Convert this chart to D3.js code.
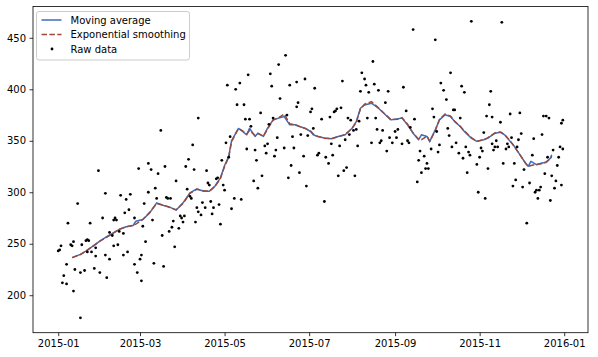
<!DOCTYPE html>
<html>
<head>
<meta charset="utf-8">
<script src="https://cdn.jsdelivr.net/npm/d3@7"></script>
<style>
  html, body { margin: 0; padding: 0; background: #fff; }
  svg { display: block; font-family: "DejaVu Sans", sans-serif; }
</style>
</head>
<body>
<svg id="chart" width="598" height="357"></svg>
<script>
// ---------- data (day offsets from 2015-01-01) ----------
const startDate = new Date(2015, 0, 1);

const rawDays = [65,58,29,34,65,45,52,49,14,62,51,48,32,41,42,40,55,7,23,61,37,44,47,39,20,21,22,11,63,2,1,0,9,10,17,43,40,27,21,24,50,34,27,47,60,37,59,6,55,12,19,16,26,30,57,4,35,3,6,60,11,16,
122,101,74,97,124,121,94,77,92,67,98,118,107,72,123,85,115,114,108,109,119,70,120,93,96,95,71,78,79,81,100,104,110,106,116,112,127,125,101,103,111,88,89,91,68,83,90,99,117,82,87,80,75,84,69,76,
164,159,137,153,131,128,154,167,172,178,185,160,129,134,173,172,183,182,146,135,138,165,155,152,139,158,169,175,180,151,149,136,142,157,163,170,150,156,177,188,143,168,174,147,166,141,144,179,132,
227,219,205,221,222,228,218,224,231,238,249,236,200,201,199,204,190,196,209,211,217,223,229,184,213,215,230,234,245,243,210,207,239,244,233,232,197,203,216,226,241,248,237,187,193,198,195,208,206,202,214,192,
298,256,272,283,276,278,291,293,280,311,285,286,251,270,309,271,257,290,254,281,273,307,282,252,253,275,287,284,294,305,269,261,274,296,289,306,264,297,292,304,260,266,302,265,267,310,262,295,259,303,308,
320,312,313,326,333,350,352,354,319,363,364,334,349,327,343,316,313,317,315,314,324,325,332,362,364,323,357,331,321,329,342,353,361,360,336,351,356,330,359,340,328,335,348,347,345,344,358,363,346,355,338];

const rawValues = [328,323,321,299,300,297,298,293,289,289,283,280,275,275,273,273,275,270,270,267,261,262,260,258,253,254,253,252,252,248,244,243,249,248,249,249,248,246,242,242,242,239,238,239,239,235,235,230,230,225,224,222,226,222,222,219,217,212,211,214,204,178,
404,372,360,346,354,348,332,325,325,322,322,331,321,318,334,311,314,313,309,307,307,304,302,303,294,296,294,295,294,294,285,290,291,285,288,285,294,284,281,278,279,277,275,277,273,272,271,271,269,266,265,262,258,247,231,228,
433,424,414,415,406,400,403,404,407,410,401,391,385,385,387,383,381,378,377,371,371,375,372,366,364,353,354,356,355,347,345,342,341,341,343,343,338,335,335,338,331,326,319,316,314,311,304,306,293,
427,416,408,410,404,405,398,397,399,398,402,387,379,381,378,382,371,373,372,370,369,372,372,362,360,361,361,360,361,359,356,351,353,353,350,348,347,345,345,348,348,347,340,336,334,336,328,324,321,316,316,291,
466,458,448,416,406,399,403,397,390,385,380,380,379,381,374,373,371,372,363,362,359,358,355,350,348,346,348,344,344,343,342,340,339,339,338,340,335,336,333,334,331,328,327,323,323,323,319,319,310,300,294,
465,398,373,376,377,374,374,372,368,367,370,357,356,353,352,350,347,344,344,341,347,344,351,344,342,342,341,344,328,328,336,334,334,326,322,318,316,312,311,309,306,305,305,302,302,300,304,307,294,292,270];

const maDays = [10,16,20,25,30,35,40,44,49,54,56,61,66,71,76,80,85,90,95,100,105,109,113,117,120,123,125,130,133,136,138,142,144,148,151,155,159,163,167,171,174,178,182,184,187,192,197,202,207,212,215,218,221,226,231,236,240,245,248,252,256,260,262,266,268,272,275,279,283,286,290,293,298,302,307,310,315,319,322,326,329,333,337,339,341,345,349,352,355,356];
const maValues = [236.5,239.7,242.9,247.7,252.5,256.8,260.7,263.9,266.5,267.7,271.9,273.5,280,289.7,287.1,285.8,282.6,289.7,299.4,303.2,301,301,305.8,313.9,326,335,350,362,359,355.8,362.2,354.2,357.4,354.2,362.2,370.3,372,373.5,365.5,365.5,363.9,362.2,359,355.8,354.2,352.6,351.9,354.2,355.8,362.2,368.6,381.6,384.8,386.5,381.6,375.2,370.3,371.3,372,365.5,357.4,351,355.8,354.2,349.4,360.6,370.3,375.2,373.5,368.6,363.9,359,352.6,349.4,351,352.6,357.4,358.3,355.8,349.4,344.6,336.5,328.4,325.2,330,326.8,328.4,329,333,336.5];

const esDays = maDays;
const esValues = [236.5,239.5,243,247.5,252.5,256.5,260.5,264,266.5,268,269,273.5,280.5,289,287.5,285.5,283,289,299,303,301.5,301,305.5,313.5,325,334,349,362,359.5,356.5,360,355,357,354.5,361.5,370,372.5,376,366.5,365.5,364,362,359.5,356.5,354.5,352.5,352,354,356,362,368,381,385.5,388,382,375.5,370.5,371,372.5,366,357.5,351.5,351,354.5,349.5,360,370.5,376,374,369,364,359.5,353,349.5,351,353,357.5,358.5,356,350,344.5,336.5,328.5,325,326,327,328,329.5,332.5,335];

const xTickDates = ["2015-01-01","2015-03-01","2015-05-01","2015-07-01","2015-09-01","2015-11-01","2016-01-01"];
const yTickValues = [200,250,300,350,400,450];
const legendLabels = ["Moving average","Exponential smoothing","Raw data"];

// ---------- layout ----------
const W = 598, H = 357;
const plot = {left: 33, right: 588, top: 6.5, bottom: 332.7};
const maColor = "#3b6cc0";
const esColor = "#9a4a36";

const dayToDate = d => d3.timeDay.offset(startDate, d);

const raw = rawDays.map((d, i) => ({date: dayToDate(d), value: rawValues[i]}));
const ma = maDays.map((d, i) => ({date: dayToDate(d), value: maValues[i]}));
const es = esDays.map((d, i) => ({date: dayToDate(d), value: esValues[i]}));

// matplotlib-like 5% margins
const dayExt = d3.extent(rawDays);
const dPad = (dayExt[1] - dayExt[0]) * 0.05;
const vExt = d3.extent(rawValues);
const vPad = (vExt[1] - vExt[0]) * 0.05;

const x = d3.scaleTime()
  .domain([d3.timeHour.offset(dayToDate(dayExt[0]), -dPad * 24), d3.timeHour.offset(dayToDate(dayExt[1]), dPad * 24)])
  .range([plot.left, plot.right]);
const y = d3.scaleLinear()
  .domain([vExt[0] - vPad, vExt[1] + vPad])
  .range([plot.bottom, plot.top]);

const svg = d3.select("#chart");
svg.append("rect").attr("width", W).attr("height", H).attr("fill", "#fff");

const clipId = "plotclip";
svg.append("clipPath").attr("id", clipId).append("rect")
  .attr("x", plot.left).attr("y", plot.top)
  .attr("width", plot.right - plot.left).attr("height", plot.bottom - plot.top);

const g = svg.append("g").attr("clip-path", `url(#${clipId})`);

const line = d3.line().x(d => x(d.date)).y(d => y(d.value));

g.append("path").datum(ma)
  .attr("fill", "none").attr("stroke", maColor).attr("stroke-width", 1.5)
  .attr("stroke-linejoin", "round").attr("d", line);

g.append("path").datum(es)
  .attr("fill", "none").attr("stroke", esColor).attr("stroke-width", 1.5)
  .attr("stroke-dasharray", "5.5,2.4").attr("d", line);

g.selectAll("circle.raw").data(raw).join("circle")
  .attr("class", "raw")
  .attr("cx", d => x(d.date)).attr("cy", d => y(d.value))
  .attr("r", 1.4).attr("fill", "#000");

// ---------- axes ----------
const parse = d3.timeParse("%Y-%m-%d");
const xAxis = d3.axisBottom(x)
  .tickValues(xTickDates.map(parse))
  .tickFormat(d3.timeFormat("%Y-%m"))
  .tickSize(3.5).tickPadding(3.5);
const yAxis = d3.axisLeft(y)
  .tickValues(yTickValues)
  .tickSize(3.5).tickPadding(3.5);

const gx = svg.append("g").attr("transform", `translate(0,${plot.bottom})`).call(xAxis);
const gy = svg.append("g").attr("transform", `translate(${plot.left},0)`).call(yAxis);
[gx, gy].forEach(a => {
  a.select(".domain").remove();
  a.selectAll(".tick line").attr("stroke", "#000").attr("stroke-width", 0.8);
  a.selectAll(".tick text").attr("fill", "#000")
    .style("font-family", "'DejaVu Sans', sans-serif").style("font-size", "10px");
});

// frame
svg.append("rect")
  .attr("x", plot.left).attr("y", plot.top)
  .attr("width", plot.right - plot.left).attr("height", plot.bottom - plot.top)
  .attr("fill", "none").attr("stroke", "#000").attr("stroke-width", 0.8);

// ---------- legend ----------
const lg = svg.append("g");
lg.append("rect")
  .attr("x", 36.5).attr("y", 11.5).attr("width", 153).attr("height", 48.5)
  .attr("rx", 2.5).attr("fill", "#fff").attr("fill-opacity", 0.8)
  .attr("stroke", "#cccccc").attr("stroke-width", 1);

const rows = [20, 34.5, 49];
lg.append("line").attr("x1", 41.5).attr("x2", 61.5).attr("y1", rows[0]).attr("y2", rows[0])
  .attr("stroke", maColor).attr("stroke-width", 1.5);
lg.append("line").attr("x1", 41.5).attr("x2", 61.5).attr("y1", rows[1]).attr("y2", rows[1])
  .attr("stroke", esColor).attr("stroke-width", 1.5).attr("stroke-dasharray", "5.5,2.4");
lg.append("circle").attr("cx", 52).attr("cy", rows[2]).attr("r", 1.4).attr("fill", "#000");

legendLabels.forEach((t, i) => {
  lg.append("text").attr("x", 70.5).attr("y", rows[i] + 3.6)
    .style("font-size", "10px").attr("fill", "#000").text(t);
});
</script>
</body>
</html>
